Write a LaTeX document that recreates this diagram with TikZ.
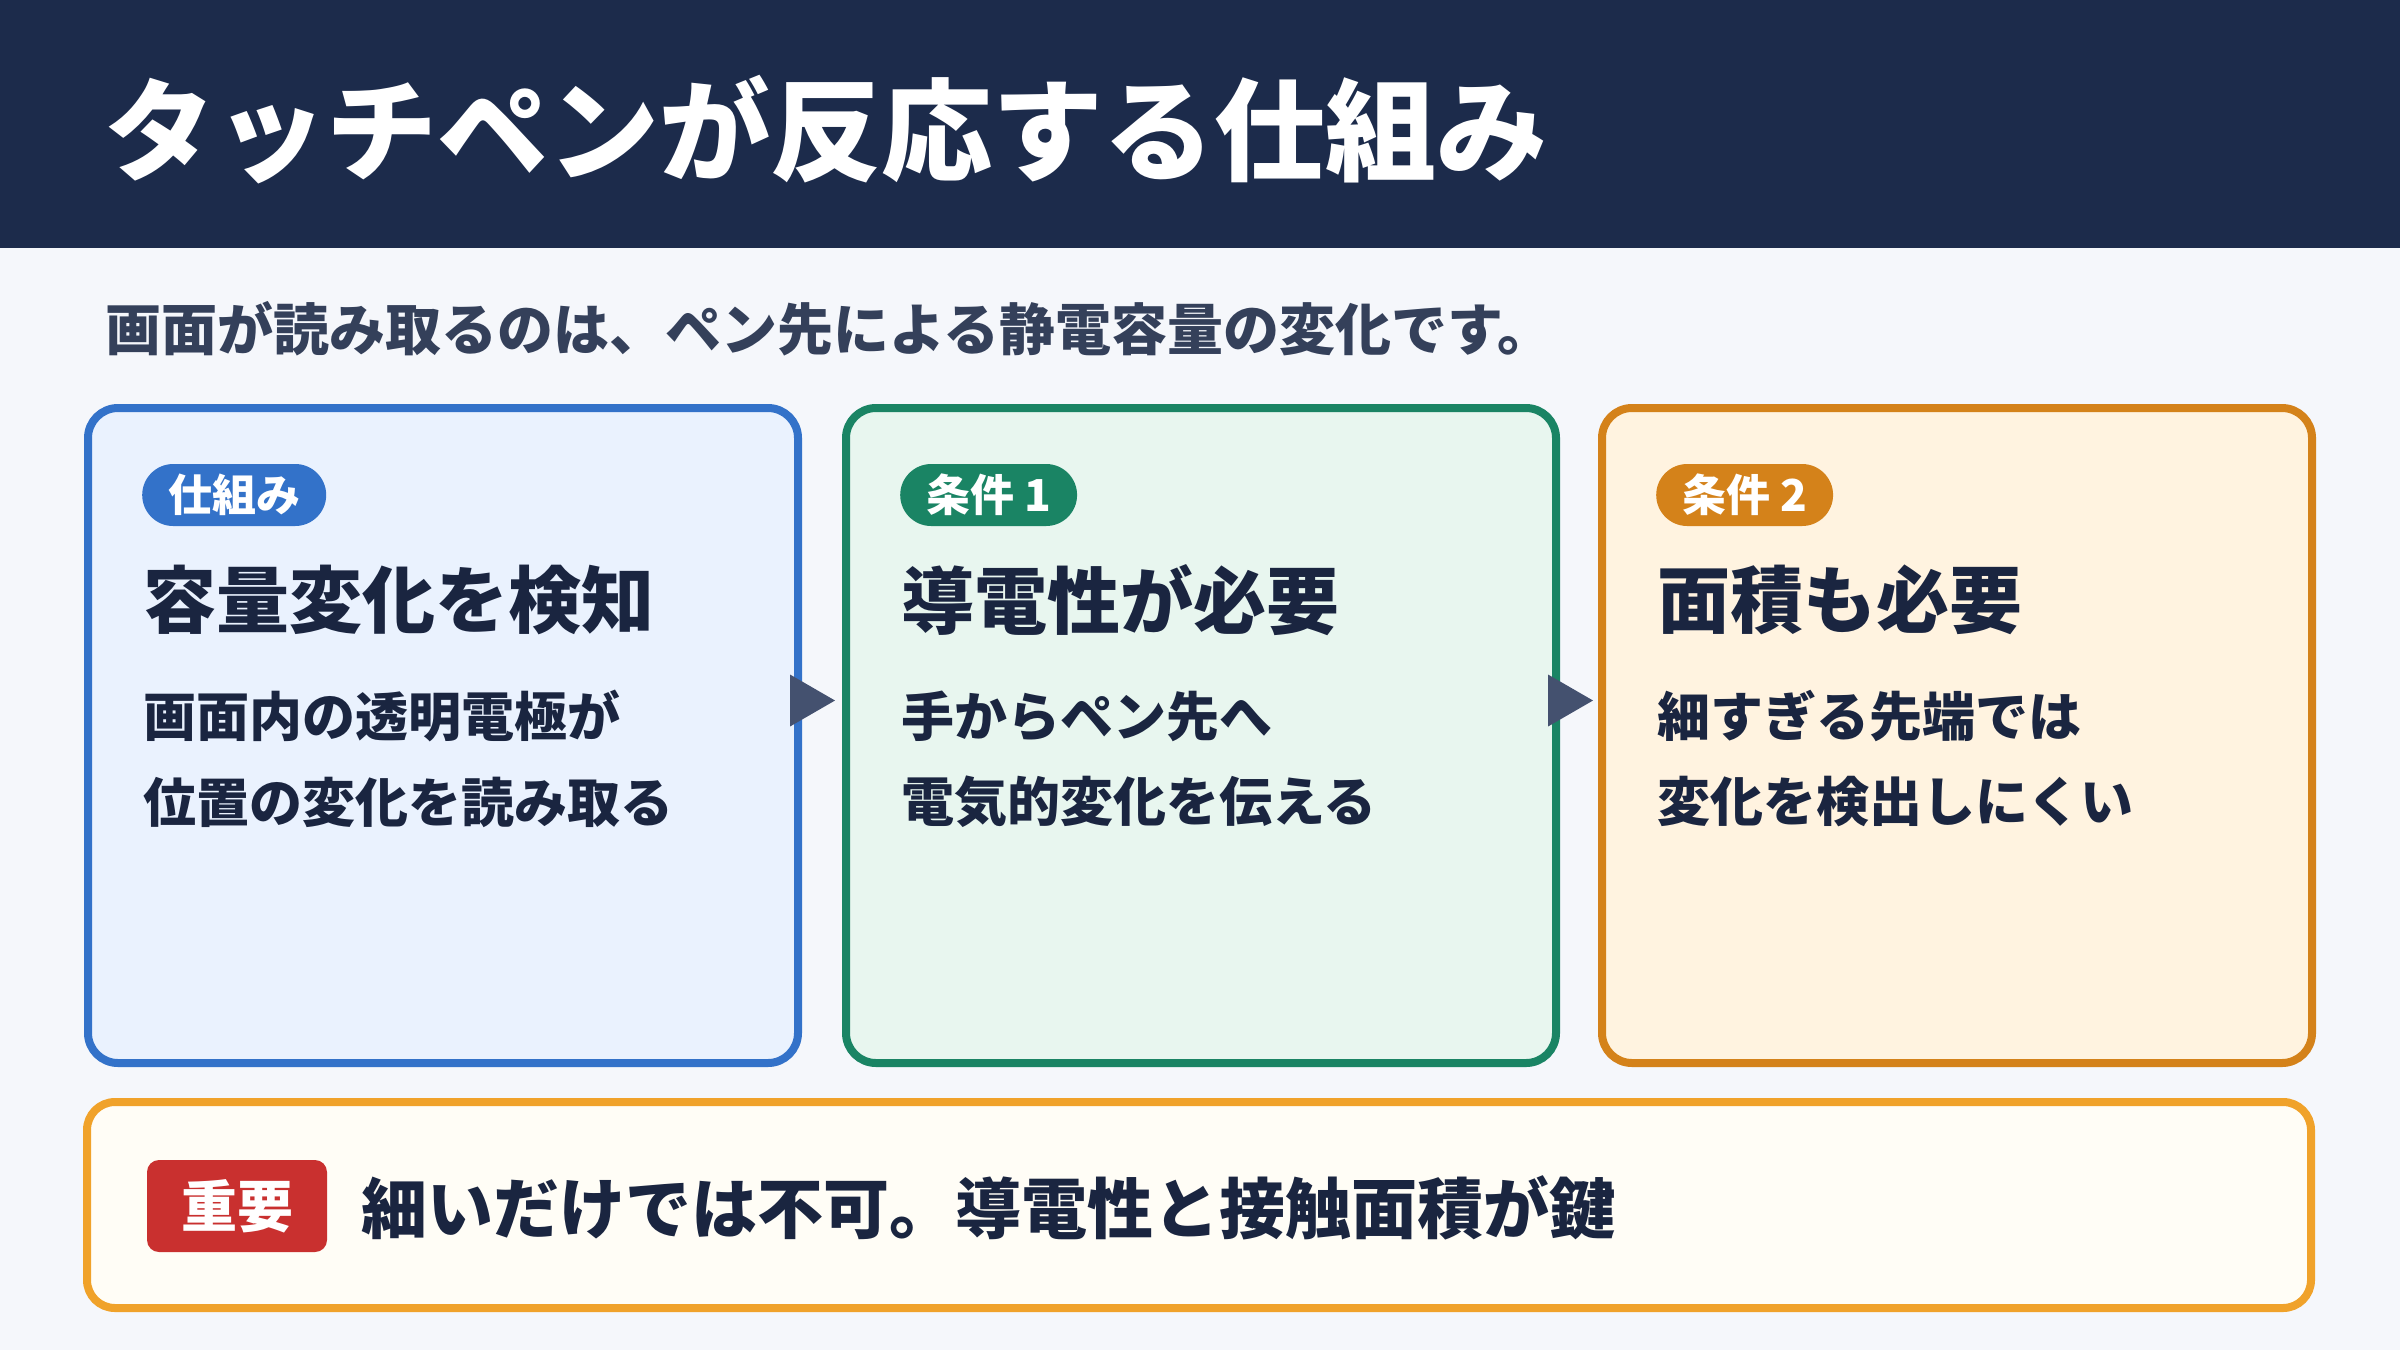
\documentclass[tikz,border=0pt]{standalone}
\usepackage{fontspec}
\setmainfont{Noto Sans CJK JP}
\usetikzlibrary{calc}
\definecolor{hdr}{HTML}{1C2B4B}
\definecolor{bg}{HTML}{F5F7FB}
\definecolor{subc}{HTML}{34405A}
\definecolor{inkc}{HTML}{1A2540}
\definecolor{blueb}{HTML}{3372C9}
\definecolor{bluef}{HTML}{EAF2FE}
\definecolor{greenb}{HTML}{1A8464}
\definecolor{greenf}{HTML}{E8F6EF}
\definecolor{orangeb}{HTML}{D4821A}
\definecolor{orangef}{HTML}{FFF3E0}
\definecolor{goldb}{HTML}{F0A22A}
\definecolor{creamf}{HTML}{FFFDF6}
\definecolor{redb}{HTML}{C9302F}
\definecolor{arrowc}{HTML}{44516F}
\begin{document}
\begin{tikzpicture}[x=1pt,y=-1pt,
  card/.style 2 args={draw=#1, fill=#2, line width=8pt, rounded corners=30pt,
    minimum width=710pt, minimum height=655pt, inner sep=0pt},
  badge/.style={fill=#1, rounded corners=31pt, minimum height=62pt, inner xsep=26pt,
    inner ysep=0pt, text=white, font=\bfseries\fontsize{44}{50}\selectfont, anchor=west},
  headtxt/.style={anchor=west, inner sep=0pt, text=inkc, font=\bfseries\fontsize{73}{80}\selectfont},
  bodytxt/.style={anchor=west, inner sep=0pt, text=inkc, font=\bfseries\fontsize{53}{60}\selectfont},
  marker/.style={fill=arrowc}
]
\fill[bg] (0,0) rectangle (2400,1350);
\useasboundingbox (0,0) rectangle (2400,1350);
\fill[hdr] (0,0) rectangle (2400,248);
\node[anchor=west, inner sep=0pt, text=white, font=\bfseries\fontsize{111}{130}\selectfont] (title) at (104,130) {タッチペンが反応する仕組み};
\node[anchor=west, inner sep=0pt, text=subc, font=\bfseries\fontsize{56}{62}\selectfont] (subtitle) at (105,329) {画面が読み取るのは、ペン先による静電容量の変化です。};

\node[card={blueb}{bluef}] (c1) at (443,735.5) {};
\node[card={greenb}{greenf}] (c2) at (1201,735.5) {};
\node[card={orangeb}{orangef}] (c3) at (1957,735.5) {};

\fill[marker] ($(c1.east)+(-12,-61)$) -- ++(45,26) -- ++(-45,26) -- cycle;
\fill[marker] ($(c2.east)+(-12,-61)$) -- ++(45,26) -- ++(-45,26) -- cycle;

\node[badge=blueb] (b1) at ($(c1.west)+(58,-240.5)$) {仕組み};
\node[badge=greenb] (b2) at ($(c2.west)+(58,-240.5)$) {条件 1};
\node[badge=orangeb] (b3) at ($(c3.west)+(58,-240.5)$) {条件 2};

\node[headtxt] (h1) at ($(c1.west)+(59,-135.5)$) {容量変化を検知};
\node[headtxt] (h2) at ($(c2.west)+(59,-135.5)$) {導電性が必要};
\node[headtxt] (h3) at ($(c3.west)+(59,-135.5)$) {面積も必要};

\node[bodytxt] (t1a) at ($(c1.west)+(59,-19.5)$) {画面内の透明電極が};
\node[bodytxt] (t1b) at ($(c1.west)+(59,66.5)$) {位置の変化を読み取る};
\node[bodytxt] (t2a) at ($(c2.west)+(59,-19.5)$) {手からペン先へ};
\node[bodytxt] (t2b) at ($(c2.west)+(59,66.5)$) {電気的変化を伝える};
\node[bodytxt] (t3a) at ($(c3.west)+(59,-19.5)$) {細すぎる先端では};
\node[bodytxt] (t3b) at ($(c3.west)+(59,66.5)$) {変化を検出しにくい};

\node[draw=goldb, fill=creamf, line width=8pt, rounded corners=28pt,
  minimum width=2224pt, minimum height=206pt, inner sep=0pt] (imp) at (1199,1205) {};
\node[fill=redb, rounded corners=12pt, minimum width=180pt, minimum height=92pt, inner sep=0pt,
  text=white, font=\bfseries\fontsize{56}{60}\selectfont] (juyo) at (237,1206) {重要};
\node[anchor=west, inner sep=0pt, text=inkc, font=\bfseries\fontsize{66}{72}\selectfont] (key) at ($(juyo.east)+(34,2)$) {細いだけでは不可。導電性と接触面積が鍵};
\end{tikzpicture}
\end{document}
